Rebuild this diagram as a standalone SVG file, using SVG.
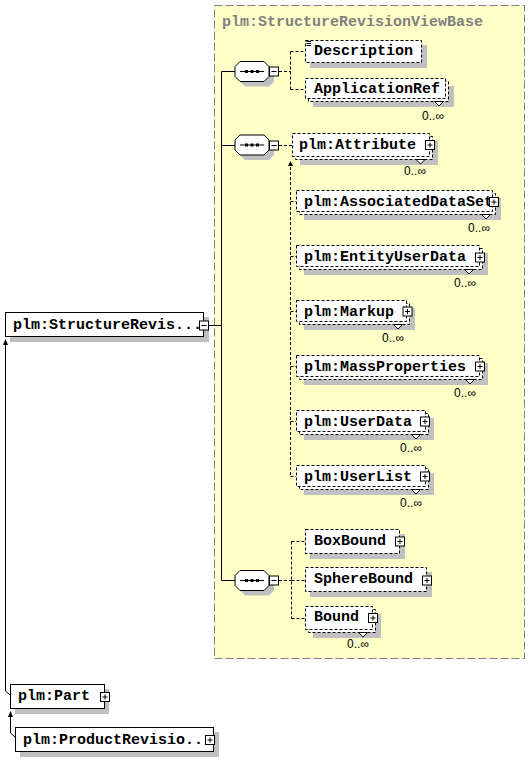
<svg xmlns="http://www.w3.org/2000/svg" width="530" height="765" viewBox="0 0 530 765">
<style>
.t{font-family:"Liberation Mono","Courier New",monospace;font-weight:bold;font-size:15px;fill:#000}
.ttl{font-family:"Liberation Mono","Courier New",monospace;font-weight:bold;font-size:15px;fill:#808080}
.occ{font-family:"Liberation Sans",Arial,sans-serif;font-size:12px;fill:#000;text-anchor:end}
.sh{fill:#c0c0c0}
.bx{fill:#fff;stroke:#000;stroke-width:1}
.dbx{fill:#fff;stroke:#000;stroke-width:1;stroke-dasharray:3,2}
.ln{fill:none;stroke:#000;stroke-width:1}
.dl{fill:none;stroke:#000;stroke-width:1;stroke-dasharray:3,2}
.ic{fill:#fff;stroke:#000;stroke-width:1}
.nt{fill:#fff;stroke:#000;stroke-width:1}
</style>
<defs>
<g id="plus"><rect class="ic" x="-4.5" y="-4.5" width="9" height="9"/><path class="ln" d="M-2.5,0H2.5M0,-2.5V2.5"/></g>
<g id="minus"><rect class="ic" x="-4.5" y="-4.5" width="9" height="9"/><path class="ln" d="M-2.5,0H2.5"/></g>
<g id="seq">
<polygon class="sh" points="10,5 34,5 39,10 39,20 34,25 10,25 5,20 5,10"/>
<polygon class="bx" points="5,0 29,0 34,5 34,15 29,20 5,20 0,15 0,5"/>
<path class="ln" d="M5,10H29"/>
<rect x="10" y="8.5" width="3" height="3"/><rect x="15.5" y="8.5" width="3" height="3"/><rect x="21" y="8.5" width="3" height="3"/>
</g>
</defs>

<g id="base">
<rect x="214.5" y="5.5" width="310" height="653" fill="#ffffc8" stroke="#808080" stroke-width="1" stroke-dasharray="8,3"/>
<text class="ttl" x="222" y="26">plm:StructureRevisionViewBase</text>
</g>

<g id="connectors">
<path class="ln" d="M208.5,325.5H221.5M221.5,71.5V580.5M221.5,71.5H235M221.5,145.5H235M221.5,580.5H235"/>
<path class="dl" d="M279,71.5H290.5M290.5,51.5V89.5M290.5,51.5H305M290.5,89.5H305"/>
<path class="dl" d="M279,145.5H292"/>
<path class="dl" d="M290.5,162V476.5M290.5,201.5H296M290.5,256.5H296M290.5,311.5H296M290.5,366.5H296M290.5,421.5H296M290.5,476.5H296"/>
<path d="M290.5,161L288,166H293Z" fill="#000"/>
<path class="ln" d="M292.5,156L296.5,152"/><path d="M298,150.5L294.5,151.5L297,154Z" fill="#000"/>
<path class="dl" d="M279,580.5H291.5M291.5,541.5V618.5M291.5,541.5H305M291.5,580.5H305M291.5,618.5H305"/>
<path class="ln" d="M5.5,342V691L10.5,695.5"/>
<path d="M5.5,339L3,345H8Z" fill="#000"/>
<path class="ln" d="M10.5,716V733L15.5,737.5"/>
<path d="M10.5,711L8,717H13Z" fill="#000"/>
</g>

<g id="seq1"><use href="#seq" x="235" y="61.5"/><use href="#minus" x="274" y="71.5"/></g>
<g id="seq2"><use href="#seq" x="235" y="135"/><use href="#minus" x="274" y="145.5"/></g>
<g id="seq3"><use href="#seq" x="235" y="570.5"/><use href="#minus" x="274" y="580.5"/></g>

<g id="n-structrev">
<rect class="sh" x="10" y="317" width="199" height="25"/>
<rect class="bx" x="5.5" y="312.5" width="198" height="24"/>
<text class="t" x="13" y="329">plm:StructureRevis...</text>
<use href="#minus" x="204" y="325.5"/>
</g>

<g id="n-part">
<rect class="sh" x="15" y="689" width="94" height="25"/>
<rect class="bx" x="10.5" y="684.5" width="94" height="24"/>
<text class="t" x="18" y="700">plm:Part</text>
<use href="#plus" x="105" y="697"/>
</g>

<g id="n-productrev">
<rect class="sh" x="20" y="732" width="199" height="25"/>
<rect class="bx" x="15.5" y="727.5" width="198" height="24"/>
<text class="t" x="23" y="744">plm:ProductRevisio...</text>
<use href="#plus" x="210" y="740"/>
</g>

<g id="n-description">
<rect class="sh" x="310" y="45" width="117" height="23"/>
<rect class="dbx" x="305.5" y="40.5" width="116" height="22"/>
<path class="ln" d="M306.5,41.5H311M306.5,43.5H311M306.5,45.5H311"/>
<text class="t" x="314" y="55">Description</text>
</g>

<g id="n-applicationref">
<rect class="sh" x="313" y="86" width="141" height="21"/>
<rect class="dbx" x="308.5" y="81.5" width="140" height="20"/>
<rect class="dbx" x="305.5" y="78.5" width="140" height="20"/>
<polygon class="nt" points="434.5,101.5 439,106 443.5,101.5"/>
<text class="t" x="314" y="93">ApplicationRef</text>
<text class="occ" x="444" y="120">0..∞</text>
</g>

<g id="n-attribute">
<rect class="sh" x="300" y="141" width="138" height="24"/>
<rect class="dbx" x="295.5" y="136.5" width="137" height="23"/>
<rect class="dbx" x="292.5" y="133.5" width="137" height="23"/>
<polygon class="nt" points="416,159.5 420.5,164 425,159.5"/>
<text class="t" x="299" y="149">plm:Attribute</text>
<use href="#plus" x="430" y="145"/>
<text class="occ" x="426" y="175">0..∞</text>
</g>

<g id="n-associateddataset">
<rect class="sh" x="304" y="198" width="197" height="22"/>
<rect class="dbx" x="299.5" y="193.5" width="196" height="21"/>
<rect class="dbx" x="296.5" y="190.5" width="196" height="21"/>
<polygon class="nt" points="481.5,214.5 486,219 490.5,214.5"/>
<text class="t" x="304" y="206">plm:AssociatedDataSet</text>
<use href="#plus" x="494" y="202"/>
<text class="occ" x="490" y="231.5">0..∞</text>
</g>

<g id="n-entityuserdata">
<rect class="sh" x="304" y="253" width="184" height="22"/>
<rect class="dbx" x="299.5" y="248.5" width="183" height="21"/>
<rect class="dbx" x="296.5" y="245.5" width="183" height="21"/>
<polygon class="nt" points="464.5,269.5 469,274 473.5,269.5"/>
<text class="t" x="304" y="261">plm:EntityUserData</text>
<use href="#plus" x="480" y="257.5"/>
<text class="occ" x="476" y="286.5">0..∞</text>
</g>

<g id="n-markup">
<rect class="sh" x="304" y="308" width="111" height="22"/>
<rect class="dbx" x="299.5" y="303.5" width="110" height="21"/>
<rect class="dbx" x="296.5" y="300.5" width="110" height="21"/>
<polygon class="nt" points="393.5,324.5 398,329 402.5,324.5"/>
<text class="t" x="304" y="316">plm:Markup</text>
<use href="#plus" x="407.5" y="311.5"/>
<text class="occ" x="404" y="342">0..∞</text>
</g>

<g id="n-massproperties">
<rect class="sh" x="304" y="363" width="184" height="22"/>
<rect class="dbx" x="299.5" y="358.5" width="183" height="21"/>
<rect class="dbx" x="296.5" y="355.5" width="183" height="21"/>
<polygon class="nt" points="465.5,379.5 470,384 474.5,379.5"/>
<text class="t" x="304" y="371">plm:MassProperties</text>
<use href="#plus" x="480" y="366.5"/>
<text class="occ" x="476" y="397">0..∞</text>
</g>

<g id="n-userdata">
<rect class="sh" x="304" y="418" width="130" height="22"/>
<rect class="dbx" x="299.5" y="413.5" width="129" height="21"/>
<rect class="dbx" x="296.5" y="410.5" width="129" height="21"/>
<polygon class="nt" points="411.5,434.5 416,439 420.5,434.5"/>
<text class="t" x="304" y="426">plm:UserData</text>
<use href="#plus" x="425" y="421.5"/>
<text class="occ" x="422" y="452">0..∞</text>
</g>

<g id="n-userlist">
<rect class="sh" x="304" y="473" width="130" height="22"/>
<rect class="dbx" x="299.5" y="468.5" width="129" height="21"/>
<rect class="dbx" x="296.5" y="465.5" width="129" height="21"/>
<polygon class="nt" points="411.5,489.5 416,494 420.5,489.5"/>
<text class="t" x="304" y="481">plm:UserList</text>
<use href="#plus" x="425" y="476.5"/>
<text class="occ" x="422" y="506.5">0..∞</text>
</g>

<g id="n-boxbound">
<rect class="sh" x="310" y="534" width="95" height="25"/>
<rect class="dbx" x="305.5" y="529.5" width="94" height="24"/>
<text class="t" x="314" y="545">BoxBound</text>
<use href="#plus" x="400" y="541.5"/>
</g>

<g id="n-spherebound">
<rect class="sh" x="310" y="572" width="122" height="25"/>
<rect class="dbx" x="305.5" y="567.5" width="121" height="24"/>
<text class="t" x="314" y="583">SphereBound</text>
<use href="#plus" x="427" y="580.5"/>
</g>

<g id="n-bound">
<rect class="sh" x="313" y="614" width="68" height="24"/>
<rect class="dbx" x="308.5" y="609.5" width="67" height="23"/>
<rect class="dbx" x="305.5" y="606.5" width="67" height="23"/>
<polygon class="nt" points="358.5,632.5 363,637 367.5,632.5"/>
<text class="t" x="314" y="621">Bound</text>
<use href="#plus" x="373" y="618"/>
<text class="occ" x="369" y="648">0..∞</text>
</g>
</svg>
